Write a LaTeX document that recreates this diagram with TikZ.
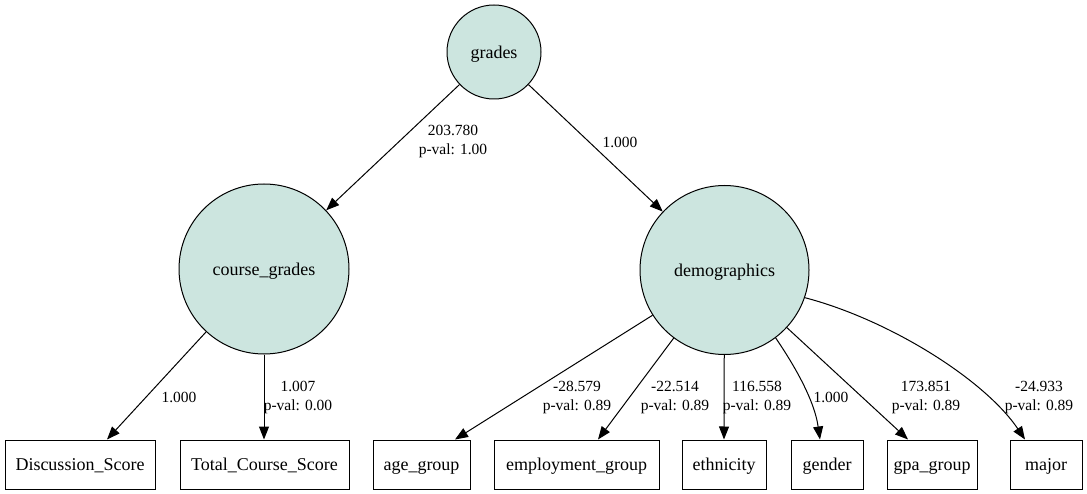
\documentclass[tikz,border=0pt]{standalone}
\usepackage{fontspec}
\setmainfont{Liberation Serif}
\usetikzlibrary{arrows.meta}
\definecolor{latentfill}{RGB}{204,229,223}
\begin{document}
\begin{tikzpicture}[x=1pt,y=-1pt,
  latent/.style={circle,draw,fill=latentfill,line width=1pt,inner sep=0pt,text height=12.5pt,text depth=0pt,font=\fontsize{18}{20}\selectfont},
  observed/.style={rectangle,draw,line width=1pt,minimum height=49pt,inner sep=0pt,text height=12pt,text depth=0pt,font=\fontsize{18}{20}\selectfont},
  edge/.style={line width=1pt,-{Triangle[length=13pt,width=10pt]}},
  elabel/.style={font=\fontsize{15.5}{19}\selectfont,align=center,inner sep=0pt}]
\useasboundingbox (0,0) rectangle (1087,494);
% latent nodes
\node[latent,minimum size=94pt] (grades) at (494,52) {grades};
\node[latent,minimum size=170pt] (cg) at (264,269) {course\_grades};
\node[latent,minimum size=169pt] (demo) at (724.5,270) {demographics};
% observed nodes
\node[observed,minimum width=150pt] (disc) at (80,464.5) {Discussion\_Score};
\node[observed,minimum width=169pt] (total) at (264.5,464.5) {Total\_Course\_Score};
\node[observed,minimum width=97pt] (age) at (421.5,464.5) {age\_group};
\node[observed,minimum width=165pt] (emp) at (576.5,464.5) {employment\_group};
\node[observed,minimum width=84pt] (eth) at (724,464.5) {ethnicity};
\node[observed,minimum width=72pt] (gen) at (827,464.5) {gender};
\node[observed,minimum width=90pt] (gpa) at (932,464.5) {gpa\_group};
\node[observed,minimum width=72pt] (maj) at (1046,464.5) {major};
% edges
\draw[edge] (grades) -- (cg);
\draw[edge] (grades) -- (demo);
\draw[edge] (cg) -- ([xshift=27pt]disc.north);
\draw[edge] (cg) -- ([xshift=-0.5pt]total.north);
\draw[edge] (demo) -- ([xshift=33.5pt]age.north);
\draw[edge] (demo) -- ([xshift=21.5pt]emp.north);
\draw[edge] (demo) -- (eth.north);
\draw[edge] (demo.-53) .. controls (792,362) and (814,398) .. ([xshift=-7pt]gen.north);
\draw[edge] (demo.-19) .. controls (890,320) and (985,380) .. ([xshift=-21pt]maj.north);
\draw[edge] (demo) -- ([xshift=-24pt]gpa.north);
% edge labels
\node[elabel] (l1) at (453,141.5) {203.780\\p-val: 1.00};
\node[elabel] (l2) at (620,142) {1.000};
\node[elabel] (l3) at (179,397) {1.000};
\node[elabel] (l4) at (298,397.5) {1.007\\p-val: 0.00};
\node[elabel] (l5) at (577,397.5) {-28.579\\p-val: 0.89};
\node[elabel] (l6) at (675,397.5) {-22.514\\p-val: 0.89};
\node[elabel] (l7) at (757,397.5) {116.558\\p-val: 0.89};
\node[elabel] (l8) at (831,397) {1.000};
\node[elabel] (l9) at (926,397.5) {173.851\\p-val: 0.89};
\node[elabel] (l10) at (1039,397.5) {-24.933\\p-val: 0.89};
\end{tikzpicture}
\end{document}
